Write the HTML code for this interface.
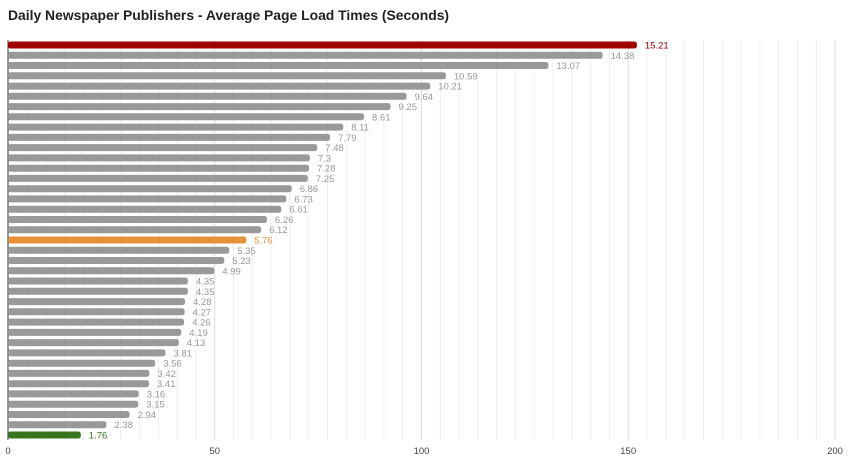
<!DOCTYPE html><html><head><style>body{margin:0;background:#fff;width:850px;height:463px;overflow:hidden}</style></head><body>
<svg width="850" height="463" xmlns="http://www.w3.org/2000/svg" font-family="Liberation Sans, sans-serif">
<text x="8" y="20" font-size="13.9" font-weight="bold" fill="#222">Daily Newspaper Publishers - Average Page Load Times (Seconds)</text>
<g stroke="#eee" stroke-width="1">
<line x1="26.8" x2="26.8" y1="40" y2="440"/><line x1="45.6" x2="45.6" y1="40" y2="440"/><line x1="64.4" x2="64.4" y1="40" y2="440"/><line x1="83.2" x2="83.2" y1="40" y2="440"/><line x1="102" x2="102" y1="40" y2="440"/><line x1="120.8" x2="120.8" y1="40" y2="440"/><line x1="139.6" x2="139.6" y1="40" y2="440"/><line x1="158.4" x2="158.4" y1="40" y2="440"/><line x1="177.2" x2="177.2" y1="40" y2="440"/><line x1="196" x2="196" y1="40" y2="440"/>
<line x1="233.5" x2="233.5" y1="40" y2="440"/><line x1="252.3" x2="252.3" y1="40" y2="440"/><line x1="271.1" x2="271.1" y1="40" y2="440"/><line x1="289.9" x2="289.9" y1="40" y2="440"/><line x1="308.7" x2="308.7" y1="40" y2="440"/><line x1="327.5" x2="327.5" y1="40" y2="440"/><line x1="346.3" x2="346.3" y1="40" y2="440"/><line x1="365.1" x2="365.1" y1="40" y2="440"/><line x1="383.9" x2="383.9" y1="40" y2="440"/><line x1="402.7" x2="402.7" y1="40" y2="440"/>
<line x1="440.3" x2="440.3" y1="40" y2="440"/><line x1="459.1" x2="459.1" y1="40" y2="440"/><line x1="477.9" x2="477.9" y1="40" y2="440"/><line x1="496.7" x2="496.7" y1="40" y2="440"/><line x1="515.5" x2="515.5" y1="40" y2="440"/><line x1="534.3" x2="534.3" y1="40" y2="440"/><line x1="553.1" x2="553.1" y1="40" y2="440"/><line x1="571.9" x2="571.9" y1="40" y2="440"/><line x1="590.7" x2="590.7" y1="40" y2="440"/><line x1="609.5" x2="609.5" y1="40" y2="440"/>
<line x1="647.1" x2="647.1" y1="40" y2="440"/><line x1="665.9" x2="665.9" y1="40" y2="440"/><line x1="684.7" x2="684.7" y1="40" y2="440"/><line x1="703.5" x2="703.5" y1="40" y2="440"/><line x1="722.3" x2="722.3" y1="40" y2="440"/><line x1="741.1" x2="741.1" y1="40" y2="440"/><line x1="759.9" x2="759.9" y1="40" y2="440"/><line x1="778.7" x2="778.7" y1="40" y2="440"/><line x1="797.5" x2="797.5" y1="40" y2="440"/><line x1="816.3" x2="816.3" y1="40" y2="440"/>
</g>
<g stroke="#ddd" stroke-width="1"><line x1="214.7" x2="214.7" y1="40" y2="440"/><line x1="421.5" x2="421.5" y1="40" y2="440"/><line x1="628.2" x2="628.2" y1="40" y2="440"/><line x1="835" x2="835" y1="40" y2="440"/></g>
<line x1="8" x2="8" y1="40" y2="440" stroke="#333" stroke-width="1"/>
<g font-size="9.5" fill="#999">
<rect x="8" y="41.5" width="628.9" height="7" rx="2.5" fill="#a00000"/><text x="644.9" y="48.5" fill="#a00000">15.21</text>
<rect x="8" y="51.8" width="594.6" height="7" rx="2.5" fill="#999"/><text x="610.6" y="58.8">14.38</text>
<rect x="8" y="62.0" width="540.4" height="7" rx="2.5" fill="#999"/><text x="556.4" y="69.0">13.07</text>
<rect x="8" y="72.3" width="437.9" height="7" rx="2.5" fill="#999"/><text x="453.9" y="79.3">10.59</text>
<rect x="8" y="82.6" width="422.2" height="7" rx="2.5" fill="#999"/><text x="438.2" y="89.6">10.21</text>
<rect x="8" y="92.8" width="398.6" height="7" rx="2.5" fill="#999"/><text x="414.6" y="99.8">9.64</text>
<rect x="8" y="103.1" width="382.5" height="7" rx="2.5" fill="#999"/><text x="398.5" y="110.1">9.25</text>
<rect x="8" y="113.3" width="356.0" height="7" rx="2.5" fill="#999"/><text x="372.0" y="120.3">8.61</text>
<rect x="8" y="123.6" width="335.3" height="7" rx="2.5" fill="#999"/><text x="351.3" y="130.6">8.11</text>
<rect x="8" y="133.9" width="322.1" height="7" rx="2.5" fill="#999"/><text x="338.1" y="140.9">7.79</text>
<rect x="8" y="144.1" width="309.3" height="7" rx="2.5" fill="#999"/><text x="325.3" y="151.1">7.48</text>
<rect x="8" y="154.4" width="301.9" height="7" rx="2.5" fill="#999"/><text x="317.9" y="161.4">7.3</text>
<rect x="8" y="164.7" width="301.0" height="7" rx="2.5" fill="#999"/><text x="317.0" y="171.7">7.28</text>
<rect x="8" y="174.9" width="299.8" height="7" rx="2.5" fill="#999"/><text x="315.8" y="181.9">7.25</text>
<rect x="8" y="185.2" width="283.7" height="7" rx="2.5" fill="#999"/><text x="299.7" y="192.2">6.86</text>
<rect x="8" y="195.4" width="278.3" height="7" rx="2.5" fill="#999"/><text x="294.3" y="202.4">6.73</text>
<rect x="8" y="205.7" width="273.3" height="7" rx="2.5" fill="#999"/><text x="289.3" y="212.7">6.61</text>
<rect x="8" y="216.0" width="258.9" height="7" rx="2.5" fill="#999"/><text x="274.9" y="223.0">6.26</text>
<rect x="8" y="226.2" width="253.1" height="7" rx="2.5" fill="#999"/><text x="269.1" y="233.2">6.12</text>
<rect x="8" y="236.5" width="238.2" height="7" rx="2.5" fill="#e69138"/><text x="254.2" y="243.5" fill="#e69138">5.76</text>
<rect x="8" y="246.8" width="221.2" height="7" rx="2.5" fill="#999"/><text x="237.2" y="253.8">5.35</text>
<rect x="8" y="257.0" width="216.3" height="7" rx="2.5" fill="#999"/><text x="232.3" y="264.0">5.23</text>
<rect x="8" y="267.3" width="206.3" height="7" rx="2.5" fill="#999"/><text x="222.3" y="274.3">4.99</text>
<rect x="8" y="277.5" width="179.9" height="7" rx="2.5" fill="#999"/><text x="195.9" y="284.5">4.35</text>
<rect x="8" y="287.8" width="179.9" height="7" rx="2.5" fill="#999"/><text x="195.9" y="294.8">4.35</text>
<rect x="8" y="298.1" width="177.0" height="7" rx="2.5" fill="#999"/><text x="193.0" y="305.1">4.28</text>
<rect x="8" y="308.3" width="176.6" height="7" rx="2.5" fill="#999"/><text x="192.6" y="315.3">4.27</text>
<rect x="8" y="318.6" width="176.1" height="7" rx="2.5" fill="#999"/><text x="192.1" y="325.6">4.26</text>
<rect x="8" y="328.9" width="173.3" height="7" rx="2.5" fill="#999"/><text x="189.3" y="335.9">4.19</text>
<rect x="8" y="339.1" width="170.8" height="7" rx="2.5" fill="#999"/><text x="186.8" y="346.1">4.13</text>
<rect x="8" y="349.4" width="157.5" height="7" rx="2.5" fill="#999"/><text x="173.5" y="356.4">3.81</text>
<rect x="8" y="359.7" width="147.2" height="7" rx="2.5" fill="#999"/><text x="163.2" y="366.7">3.56</text>
<rect x="8" y="369.9" width="141.4" height="7" rx="2.5" fill="#999"/><text x="157.4" y="376.9">3.42</text>
<rect x="8" y="380.2" width="141.0" height="7" rx="2.5" fill="#999"/><text x="157.0" y="387.2">3.41</text>
<rect x="8" y="390.4" width="130.7" height="7" rx="2.5" fill="#999"/><text x="146.7" y="397.4">3.16</text>
<rect x="8" y="400.7" width="130.3" height="7" rx="2.5" fill="#999"/><text x="146.3" y="407.7">3.15</text>
<rect x="8" y="411.0" width="121.6" height="7" rx="2.5" fill="#999"/><text x="137.6" y="418.0">2.94</text>
<rect x="8" y="421.2" width="98.4" height="7" rx="2.5" fill="#999"/><text x="114.4" y="428.2">2.38</text>
<rect x="8" y="431.5" width="72.8" height="7" rx="2.5" fill="#38761d"/><text x="88.8" y="438.5" fill="#38761d">1.76</text>
</g>
<g font-size="9.5" fill="#444" text-anchor="middle">
<text x="8" y="454">0</text><text x="214.7" y="454">50</text><text x="421.5" y="454">100</text><text x="628.2" y="454">150</text><text x="835" y="454">200</text>
</g>
</svg></body></html>
